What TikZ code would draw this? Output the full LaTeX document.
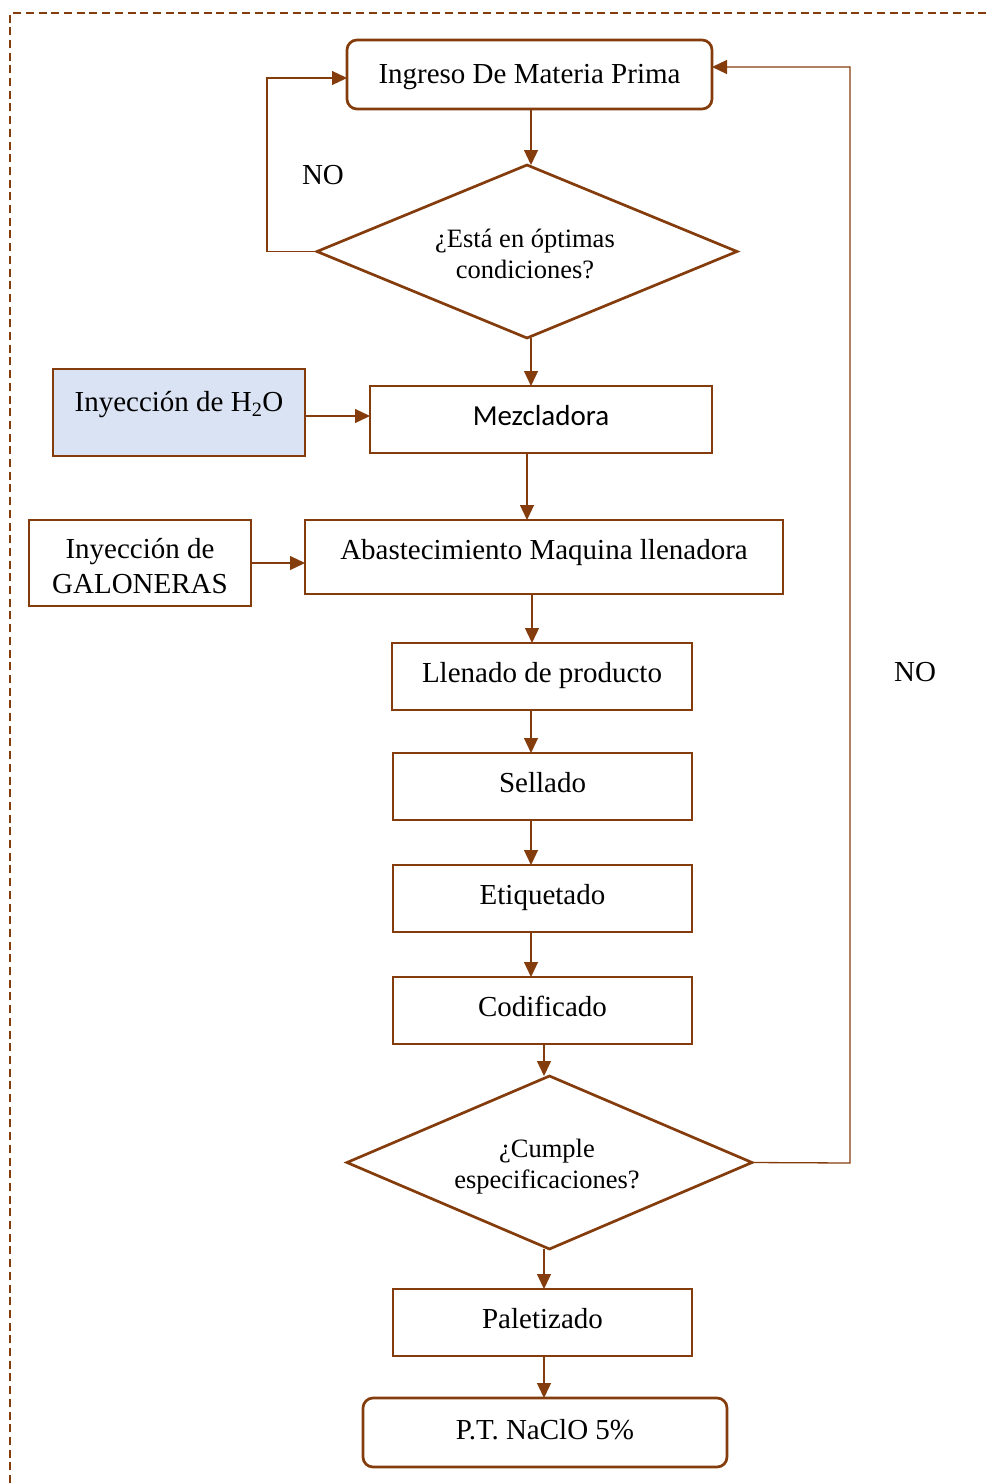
\documentclass[tikz,border=0pt]{standalone}
\usepackage{fontspec}
\setmainfont{Liberation Serif}
\newfontfamily\calibrifont{Carlito}
\usetikzlibrary{arrows.meta,shapes.geometric}
\definecolor{brn}{HTML}{843C0C}
\definecolor{paleblue}{HTML}{DAE3F3}
\begin{document}
\begin{tikzpicture}[x=1pt,y=-1pt,
  every node/.style={inner sep=0pt, outer sep=0pt, align=center,
    font=\fontsize{29}{35}\selectfont},
  box/.style={draw=brn, line width=2.7pt, rectangle,
    text height=20.3pt, text depth=9.3pt},
  rbox/.style={box, rounded corners=10pt},
  dia/.style={draw=brn, line width=2.7pt, diamond},
  dtxt/.style={font=\fontsize{26.5}{31}\selectfont},
  arr/.style={draw=brn, line width=1.3pt, -{Triangle[length=15pt,width=14pt]}},
  frame/.style={draw=brn, line width=2pt, dash pattern=on 8pt off 4.7pt}
]
\useasboundingbox (0,0) rectangle (987,1483);

% outer dashed frame
\coordinate (fa) at (10,1483);
\coordinate (fb) at (10,13);
\coordinate (fc) at (987,13);
\draw[frame] (fa) -- (fb) -- (fc);

% process boxes
\node[rbox, text depth=3.3pt, minimum width=365pt, minimum height=69pt] (ing) at (529.5,74.5) {Ingreso De Materia Prima};
\node[dia, minimum width=420pt, minimum height=173pt] (d1) at (527,251.5) {};
\node[dtxt] (d1txt) at (525,254) {¿Está en óptimas\\condiciones?};
\node[box, fill=paleblue, minimum width=252pt, minimum height=87pt] (h2o) at (179,412.5) {};
\node (h2otxt) at (179,405) {Inyección de H\textsubscript{2}O};
\node[box, text depth=8.3pt, minimum width=342pt, minimum height=67pt, font=\calibrifont\fontsize{29}{35}\selectfont] (mez) at (541,419.5) {Mezcladora};
\node[box, minimum width=222pt, minimum height=86pt] (gal) at (140,563) {};
\node (galtxt) at (140,566) {Inyección de\\GALONERAS};
\node[box, minimum width=478pt, minimum height=74pt] (abast) at (544,557) {};
\node (abasttxt) at (544,553) {Abastecimiento Maquina llenadora};
\node[box, minimum width=300pt, minimum height=67pt] (llen) at (542,676.5) {Llenado de producto};
\node[box, minimum width=299pt, minimum height=67pt] (sell) at (542.5,786.5) {Sellado};
\node[box, minimum width=299pt, minimum height=67pt] (etiq) at (542.5,898.5) {Etiquetado};
\node[box, minimum width=299pt, minimum height=67pt] (cod) at (542.5,1010.5) {Codificado};
\node[dia, minimum width=405pt, minimum height=173pt] (d2) at (549.5,1162.5) {};
\node[dtxt] (d2txt) at (547,1167) {¿Cumple\\especificaciones?};
\node[box, minimum width=299pt, minimum height=67pt] (pal) at (542.5,1322.5) {Paletizado};
\node[rbox, text depth=6.3pt, minimum width=364pt, minimum height=69pt] (pt) at (545,1432.5) {P.T. NaClO 5\%};

% labels
\node (no1) at (323,175) {NO};
\node (no2) at (915,672) {NO};

% x positions of the vertical connectors
\coordinate (xa) at (531,0);
\coordinate (xb) at (527,0);
\coordinate (xc) at (532,0);
\coordinate (xd) at (544,0);
\coordinate (ya) at (0,416);

% main flow
\draw[arr] (ing.south -| xa) -- (d1.north -| xa);
\draw[arr] (d1.south -| xa) -- (mez.north -| xa);
\draw[arr] (mez.south -| xb) -- (abast.north -| xb);
\draw[arr] (abast.south -| xc) -- (llen.north -| xc);
\draw[arr] (llen.south -| xa) -- (sell.north -| xa);
\draw[arr] (sell.south -| xa) -- (etiq.north -| xa);
\draw[arr] (etiq.south -| xa) -- (cod.north -| xa);
\draw[arr] (cod.south -| xd) -- (d2.north -| xd);
\draw[arr] (d2.south -| xd) -- (pal.north -| xd);
\draw[arr] (pal.south -| xd) -- (pt.north -| xd);

% side inputs
\draw[arr] (h2o.east |- ya) -- (mez.west |- ya);
\draw[arr] (gal.east) -- (abast.west |- gal.east);

% rejection loops
\coordinate (lp) at (267,251.5);
\coordinate (rp) at (850,1163);
\draw[arr] (d1.west) -- (lp) |- ([yshift=-3.5pt]ing.west);
\draw[arr] (d2.east) -- (rp) |- ([yshift=7.5pt]ing.east);
\end{tikzpicture}
\end{document}
